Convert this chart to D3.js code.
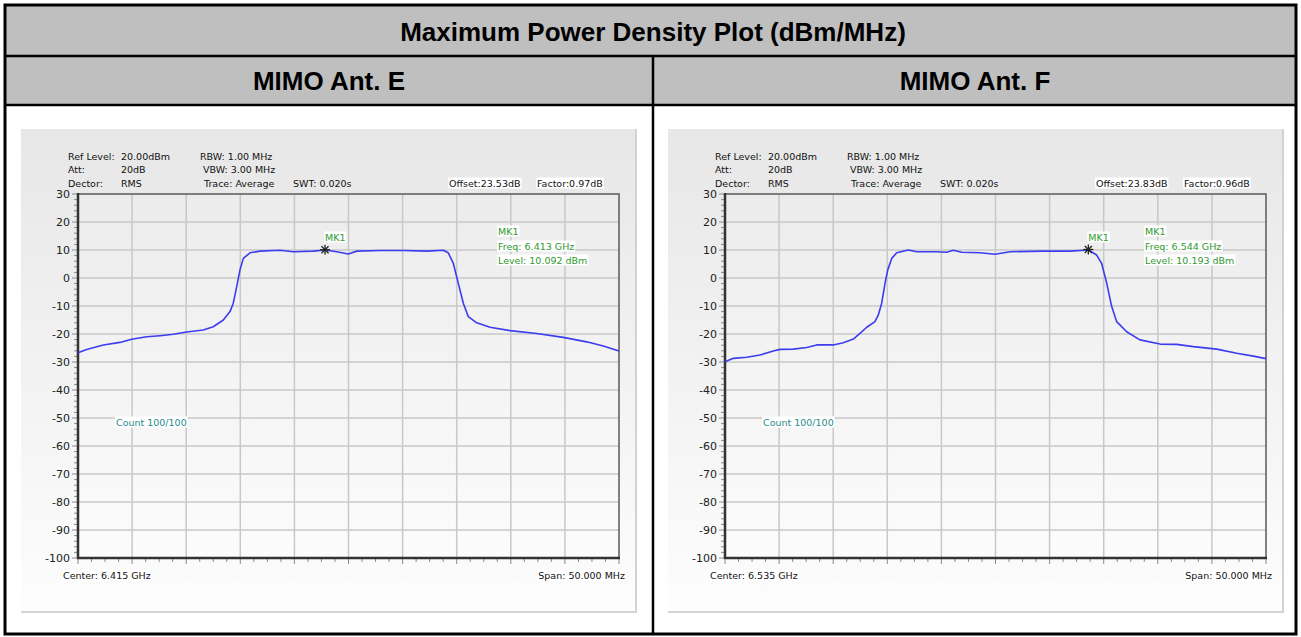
<!DOCTYPE html>
<html>
<head>
<meta charset="utf-8">
<script src="https://cdn.jsdelivr.net/npm/d3@7"></script>
<style>
  html, body { margin: 0; padding: 0; background: #fff; }
  svg { display: block; }
  .inst { font-family: "DejaVu Sans", sans-serif; font-size: 9.5px; fill: #111; }
  .tick { font-family: "DejaVu Sans", sans-serif; font-size: 11px; fill: #222; }
  .head { font-family: "Liberation Sans", Arial, sans-serif; font-weight: bold; fill: #000; }
</style>
</head>
<body>
<svg id="chart" width="1301" height="637"></svg>
<script>
// table text
var mainTitle = 'Maximum Power Density Plot (dBm/MHz)'
var panelTitles = ['MIMO Ant. E', 'MIMO Ant. F']

// instrument settings
var centerGHz = [6.415, 6.535]
var spanMHz = 50
var offsetText = ['Offset:23.53dB', 'Offset:23.83dB']
var factorText = ['Factor:0.97dB', 'Factor:0.96dB']

// y axis (dBm)
var yTicks = [30, 20, 10, 0, -10, -20, -30, -40, -50, -60, -70, -80, -90, -100]
// faint x labels under grid lines 2..8 (1 and 9 sit behind the Center / Span boxes)
var xGridLabels = ['200', '300', '400', '500', '600', '700', '800']

// markers
var markerFreqGHz = [6.41283, 6.54358]
var markerLevel = [10.092, 10.193]
var markerFreqText = ['6.413', '6.544']

// traces: offset from start frequency (MHz), level (dBm)
var offsetE = [0.0, 0.8, 2.34, 3.88, 4.96, 6.35, 7.58, 8.81, 10.05, 11.58, 12.5, 13.43, 14.05, 14.35, 14.67, 14.97, 15.28, 15.9, 16.82, 18.67, 19.9, 21.75, 22.83, 23.91, 24.98, 25.76, 27.91, 30.07, 32.23, 33.76, 34.22, 34.69, 35.15, 35.61, 36.07, 36.85, 38.08, 39.93, 42.39, 44.85, 47.01, 48.55, 50.0]
var levelE = [-26.7, -25.5, -23.9, -23.0, -21.9, -21.0, -20.6, -20.1, -19.3, -18.6, -17.4, -15.0, -12.0, -9.0, -3.1, 2.9, 7.0, 9.0, 9.6, 9.9, 9.4, 9.6, 10.0, 9.4, 8.6, 9.6, 9.8, 9.8, 9.6, 9.9, 9.0, 5.2, -1.9, -9.0, -13.8, -16.0, -17.6, -18.8, -19.8, -21.2, -22.8, -24.3, -26.1]

var offsetF = [0.0, 0.77, 2.01, 3.23, 4.46, 5.08, 6.31, 7.55, 8.48, 10.01, 10.93, 11.86, 12.48, 13.1, 13.86, 14.17, 14.48, 14.79, 15.04, 15.41, 15.87, 16.94, 17.72, 19.57, 20.49, 21.1, 21.88, 23.57, 24.95, 26.34, 29.42, 31.89, 33.58, 34.35, 34.81, 35.28, 35.74, 36.2, 37.12, 38.35, 40.2, 41.75, 43.28, 45.45, 47.3, 48.83, 50.0]
var levelF = [-29.9, -28.7, -28.3, -27.5, -26.1, -25.5, -25.4, -24.8, -23.9, -23.9, -23.1, -21.8, -19.8, -17.6, -15.6, -13.2, -9.0, -1.9, 2.9, 7.0, 9.0, 10.0, 9.4, 9.4, 9.2, 9.9, 9.2, 9.0, 8.5, 9.4, 9.6, 9.6, 10.0, 8.2, 5.2, -1.9, -10.2, -15.6, -19.2, -22.1, -23.6, -23.7, -24.5, -25.4, -26.9, -27.9, -28.8]

var traceOffsets = [offsetE, offsetF]
var traceLevels = [levelE, levelF]

var svg = d3.select('#chart')
var defs = svg.append('defs')

var g1 = defs.append('linearGradient').attr('id', 'panelBg').attr('x1', 0).attr('y1', 0).attr('x2', 0).attr('y2', 1)
g1.append('stop').attr('offset', '0%').attr('stop-color', '#e7e7e7')
g1.append('stop').attr('offset', '100%').attr('stop-color', '#fdfdfd')
var g2 = defs.append('linearGradient').attr('id', 'plotBg').attr('x1', 0).attr('y1', 0).attr('x2', 0).attr('y2', 1)
g2.append('stop').attr('offset', '0%').attr('stop-color', '#ececec')
g2.append('stop').attr('offset', '100%').attr('stop-color', '#fcfcfc')

// table
svg.append('rect').attr('x', 5).attr('y', 5).attr('width', 1291).attr('height', 51).attr('fill', '#bfbfbf')
svg.append('rect').attr('x', 5).attr('y', 56).attr('width', 1291).attr('height', 49).attr('fill', '#bfbfbf')

svg.append('text').attr('class', 'head').attr('x', 653).attr('y', 32)
  .attr('text-anchor', 'middle').attr('dominant-baseline', 'central')
  .style('font-size', '26px').text(mainTitle)

panelTitles.forEach(function(t, i) {
  svg.append('text').attr('class', 'head').attr('x', i == 0 ? 329 : 975).attr('y', 81)
    .attr('text-anchor', 'middle').attr('dominant-baseline', 'central')
    .style('font-size', '26px').text(t)
})

function boxedText(g, x, y, txt, color, anchor) {
  var t = g.append('text').attr('class', 'inst').attr('x', x).attr('y', y)
    .attr('dominant-baseline', 'central').attr('text-anchor', anchor || 'start')
    .style('fill', color).text(txt)
  var b = t.node().getBBox()
  g.insert('rect', function() { return t.node() })
    .attr('x', b.x - 1).attr('y', b.y).attr('width', b.width + 2).attr('height', b.height)
    .attr('fill', '#fff')
  return t
}

function drawPanel(i) {
  var PL = 21 + i * 647
  var L = PL + 57, R = PL + 598, T = 194, B = 558
  var g = svg.append('g')

  g.append('rect').attr('x', PL).attr('y', 129).attr('width', 615).attr('height', 483)
    .attr('fill', 'url(#panelBg)')
  g.append('line').attr('x1', PL + 615).attr('x2', PL + 615).attr('y1', 129).attr('y2', 613)
    .attr('stroke', '#d2d2d2').attr('stroke-width', 2)
  g.append('line').attr('x1', PL).attr('x2', PL + 616).attr('y1', 612).attr('y2', 612)
    .attr('stroke', '#d2d2d2').attr('stroke-width', 2)

  var start = centerGHz[i] - spanMHz / 2000
  var x = d3.scaleLinear().domain([start, start + spanMHz / 1000]).range([L, R])
  var y = d3.scaleLinear().domain([-100, 30]).range([B, T])

  g.append('rect').attr('x', L).attr('y', T).attr('width', R - L).attr('height', B - T)
    .attr('fill', 'url(#plotBg)')

  // grid
  var divs = d3.range(1, 10).map(function(k) { return start + k * spanMHz / 10000 })
  g.selectAll('.vg').data(divs).enter().append('line')
    .attr('x1', function(d) { return x(d) }).attr('x2', function(d) { return x(d) })
    .attr('y1', T).attr('y2', B).attr('stroke', '#c8c8c8').attr('stroke-width', 1.5)
  g.selectAll('.hg').data(yTicks.slice(1, -1)).enter().append('line')
    .attr('x1', L).attr('x2', R)
    .attr('y1', function(d) { return y(d) }).attr('y2', function(d) { return y(d) })
    .attr('stroke', '#c8c8c8').attr('stroke-width', 1.5)

  // y ticks
  var minorY = d3.range(-100, 31, 2)
  g.selectAll('.my').data(minorY).enter().append('line')
    .attr('x1', function(d) { return d % 10 == 0 ? L - 6 : L - 4 }).attr('x2', L)
    .attr('y1', function(d) { return y(d) }).attr('y2', function(d) { return y(d) })
    .attr('stroke', '#8a8a8a').attr('stroke-width', 1)
  g.selectAll('.yl').data(yTicks).enter().append('text').attr('class', 'tick')
    .attr('x', L - 8).attr('y', function(d) { return y(d) })
    .attr('text-anchor', 'end').attr('dominant-baseline', 'central')
    .text(function(d) { return d })

  // x ticks
  var minorX = d3.range(0, 41).map(function(k) { return start + k * spanMHz / 40000 })
  g.selectAll('.mx').data(minorX).enter().append('line')
    .attr('x1', function(d) { return x(d) }).attr('x2', function(d) { return x(d) })
    .attr('y1', B).attr('y2', function(d, k) { return k % 4 == 0 ? B + 6 : B + 4 })
    .attr('stroke', '#8a8a8a').attr('stroke-width', 1)
  g.selectAll('.xl').data(divs.slice(1, 8)).enter().append('text').attr('class', 'inst')
    .attr('x', function(d) { return x(d) }).attr('y', 575)
    .attr('text-anchor', 'middle').attr('dominant-baseline', 'central')
    .style('fill', '#fafafa').text(function(d, k) { return xGridLabels[k] })

  // frame
  g.append('path').attr('d', 'M' + L + ',' + T + 'H' + R + 'V' + B)
    .attr('fill', 'none').attr('stroke', '#5a5a5a').attr('stroke-width', 1.5)
  g.append('path').attr('d', 'M' + L + ',' + (T - 1) + 'V' + B + 'H' + (R + 1))
    .attr('fill', 'none').attr('stroke', '#333').attr('stroke-width', 2.5)

  // trace
  var pts = traceOffsets[i].map(function(o, k) { return [start + o / 1000, traceLevels[i][k]] })
  var line = d3.line().x(function(d) { return x(d[0]) }).y(function(d) { return y(d[1]) })
  g.append('path').datum(pts).attr('d', line)
    .attr('fill', 'none').attr('stroke', '#3c3cf0').attr('stroke-width', 1.6)
    .attr('stroke-linejoin', 'round')

  // marker
  var mx = x(markerFreqGHz[i]), my = y(markerLevel[i])
  var star = g.append('g').attr('transform', 'translate(' + mx + ',' + my + ')')
  ;[0, 45, 90, 135].forEach(function(a) {
    star.append('line').attr('x1', -5).attr('x2', 5).attr('y1', 0).attr('y2', 0)
      .attr('transform', 'rotate(' + a + ')').attr('stroke', '#222').attr('stroke-width', 1.3)
  })
  boxedText(g, mx, 237, 'MK1', '#2f9a2f')
  boxedText(g, L + 420, 231, 'MK1', '#2f9a2f')
  boxedText(g, L + 420, 246, 'Freq: ' + markerFreqText[i] + ' GHz', '#2f9a2f')
  boxedText(g, L + 420, 260, 'Level: ' + markerLevel[i].toFixed(3) + ' dBm', '#2f9a2f')

  // instrument header
  var hdr = [
    ['Ref Level:', -10, 156], ['20.00dBm', 43, 156], ['RBW: 1.00 MHz', 122, 156],
    ['Att:', -10, 169], ['20dB', 43, 169], ['VBW: 3.00 MHz', 125, 169],
    ['Dector:', -10, 183], ['RMS', 43, 183], ['Trace: Average', 126, 183], ['SWT: 0.020s', 215, 183]
  ]
  hdr.forEach(function(h) {
    g.append('text').attr('class', 'inst').attr('x', L + h[1]).attr('y', h[2])
      .attr('dominant-baseline', 'central').text(h[0])
  })
  boxedText(g, L + 371, 183, offsetText[i], '#111')
  boxedText(g, L + 459, 183, factorText[i], '#111')

  boxedText(g, L + 38, 422, 'Count 100/100', '#1f8b8b')
  boxedText(g, L - 15, 575, 'Center: ' + centerGHz[i].toFixed(3) + ' GHz', '#111')
  boxedText(g, R + 6, 575, 'Span: ' + spanMHz.toFixed(3) + ' MHz', '#111', 'end')
}

drawPanel(0)
drawPanel(1)

// table lines
svg.append('rect').attr('x', 5).attr('y', 5).attr('width', 1291).attr('height', 629)
  .attr('fill', 'none').attr('stroke', '#000').attr('stroke-width', 3)
svg.append('line').attr('x1', 5).attr('x2', 1296).attr('y1', 56).attr('y2', 56)
  .attr('stroke', '#000').attr('stroke-width', 2.5)
svg.append('line').attr('x1', 5).attr('x2', 1296).attr('y1', 105).attr('y2', 105)
  .attr('stroke', '#000').attr('stroke-width', 2.5)
svg.append('line').attr('x1', 653).attr('x2', 653).attr('y1', 56).attr('y2', 634)
  .attr('stroke', '#000').attr('stroke-width', 2.5)
</script>
</body>
</html>
